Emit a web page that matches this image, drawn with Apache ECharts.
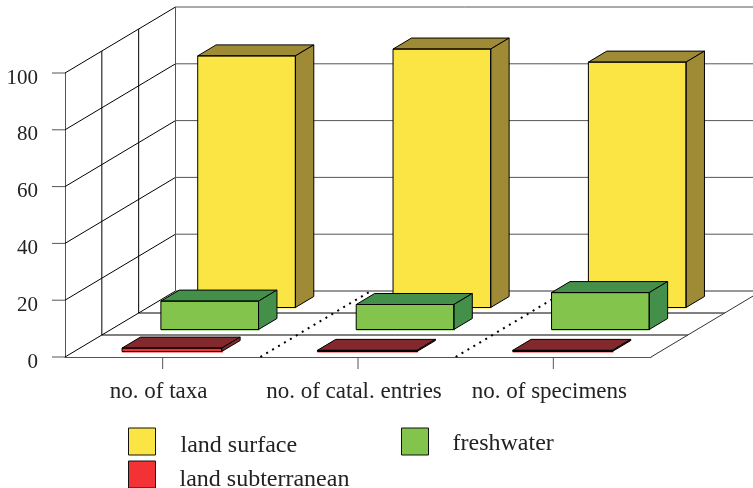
<!DOCTYPE html>
<html>
<head>
<meta charset="utf-8">
<style>html,body{margin:0;padding:0;background:#fff}#c{width:753px;height:488px}</style>
<script src="https://cdn.jsdelivr.net/npm/echarts@6/dist/echarts.min.js"></script>
</head>
<body>
<div id="c"></div>
<script>
const categories = ['no. of taxa', 'no. of catal. entries', 'no. of specimens'];
const landSurface = [88.6, 91, 86.4];
const freshwater = [10, 8.8, 13];
const landSubterranean = [1.2, 0.4, 0.4];
const yTicks = [0, 20, 40, 60, 80, 100];
const lanes = [1 / 3, 2 / 3];
const boundaries = [1, 2];

const FONT = '"Liberation Serif", serif';
const DEPTH_X = 110.5, DEPTH_Y = 66;
const GRAY = '#555', INK = '#000';

function shift(p, d) { return [p[0] + d * DEPTH_X, p[1] - d * DEPTH_Y]; }
function seg(a, b, stroke, extra) {
  return { type: 'line', shape: { x1: a[0], y1: a[1], x2: b[0], y2: b[1] },
    style: Object.assign({ stroke: stroke, lineWidth: 1, fill: null }, extra || {}) };
}
function poly(points, fill, stroke) {
  return { type: 'polygon', shape: { points: points },
    style: { fill: fill || 'none', stroke: stroke || 'none', lineWidth: 1, lineJoin: 'miter' } };
}
function edges(api) {
  const band = api.size([1, 0])[0];
  const o = api.coord([0, 0]);
  return { band: band, left: o[0] - band / 2, right: o[0] - band / 2 + band * categories.length, base: o[1] };
}

function renderWall(params, api) {
  const e = edges(api);
  const y = api.coord([0, api.value(1)])[1];
  const a = [e.left, y], b = [e.right, y];
  return { type: 'group', children: [
    seg([e.left - 13, y], a, GRAY),
    seg(a, shift(a, 1), INK),
    seg(shift(a, 1), shift(b, 1), api.value(1) === 0 ? '#333' : GRAY)
  ] };
}

function renderFrame(params, api) {
  const e = edges(api);
  const top = api.coord([0, 100])[1];
  const children = [];
  lanes.forEach(d => {
    children.push(seg(shift([e.left, top], d), shift([e.left, e.base], d), INK));
    children.push(seg(shift([e.left, e.base], d), shift([e.right, e.base], d), INK));
  });
  children.push(seg(shift([e.left, top], 1), shift([e.left, e.base], 1), GRAY));
  children.push(seg([e.right, e.base], shift([e.right, e.base], 1), '#333'));
  boundaries.forEach(i => {
    const p = [e.left + e.band * i, e.base];
    children.push(seg(p, shift(p, 1), INK, { lineWidth: 2, lineDash: [2, 4.9] }));
  });
  categories.forEach((c, i) => {
    const x = api.coord([i, 0])[0];
    children.push(seg([x, e.base], [x, e.base + 12], GRAY));
  });
  return { type: 'group', children: children };
}

function barRenderer(lane, face, shade, nudge, grow) {
  return function (params, api) {
    const e = edges(api);
    const halfW = e.band * 0.25 + grow;
    const v = api.coord([api.value(0), api.value(1)]);
    const cx = v[0] + nudge;
    const d0 = (lane + 0.25) / 3, d1 = (lane + 0.75) / 3;
    const fl = shift([cx - halfW, e.base], d0);
    const fr = shift([cx + halfW, e.base], d0);
    const tl = shift([cx - halfW, v[1]], d0);
    const tr = shift([cx + halfW, v[1]], d0);
    const btl = shift([cx - halfW, v[1]], d1);
    const btr = shift([cx + halfW, v[1]], d1);
    const bbr = shift([cx + halfW, e.base], d1);
    return { type: 'group', children: [
      poly([[tl[0], tl[1]], [tr[0] + 1, tr[1]], [fr[0] + 1, fr[1] + 1], [fl[0], fl[1] + 1]], face),
      poly([tl, tr, btr, btl], shade, INK),
      poly([tr, btr, bbr, fr], shade, INK),
      poly([tl, tr, fr, fl], null, INK)
    ] };
  };
}

function pairs(values) { return values.map((v, i) => [i, v]); }
function legendAt(name, left, top, padLeft, drop) {
  return { show: true, data: [{ name: name, icon: 'rect' }], left: left, top: top, orient: 'horizontal', padding: 0,
    itemWidth: 27, itemHeight: 27, selectedMode: false,
    itemStyle: { borderColor: '#111', borderWidth: 1 },
    formatter: '{s| }\n{a|{name}}',
    textStyle: { padding: [0, 0, 0, padLeft],
      rich: {
        s: { fontSize: 1, lineHeight: drop * 2 },
        a: { fontFamily: FONT, fontSize: 24, color: '#222', lineHeight: 28 }
      } } };
}

const chart = echarts.init(document.getElementById('c'), null, { renderer: 'canvas' });
chart.setOption({
  animation: false,
  backgroundColor: '#fff',
  tooltip: { show: false },
  grid: { left: 65, right: 102, top: 73, bottom: 131, containLabel: false },
  legend: [
    legendAt('land surface', 128, 427, 20, 4),
    legendAt('freshwater', 401, 427, 19, 2),
    legendAt('land subterranean', 128, 460, 19, 5)
  ],
  xAxis: {
    type: 'category', data: categories,
    axisLine: { show: true, lineStyle: { color: GRAY, width: 1 } },
    axisTick: { show: false },
    axisLabel: { interval: 0, margin: 23, fontFamily: FONT, fontSize: 23, color: '#222', padding: [0, 8, 0, 0] },
    splitLine: { show: false }
  },
  yAxis: {
    type: 'value', min: 0, max: 100, interval: 20,
    axisLine: { show: true, lineStyle: { color: GRAY, width: 1 } },
    axisTick: { show: false },
    axisLabel: { margin: 27, fontFamily: FONT, fontSize: 21, color: '#222', verticalAlign: 'top', lineHeight: 10 },
    splitLine: { show: false }
  },
  series: [
    { type: 'custom', silent: true, renderItem: renderWall, data: yTicks.map(v => [0, v]), encode: { x: 0, y: 1 }, z: 1 },
    { type: 'custom', silent: true, renderItem: renderFrame, data: [[0, 0]], encode: { x: 0, y: 1 }, z: 1 },
    { type: 'custom', name: 'land surface', silent: true, renderItem: barRenderer(2, '#FBE544', '#9F8A35', 1, 0),
      itemStyle: { color: '#FBE544' }, data: pairs(landSurface), encode: { x: 0, y: 1 }, z: 2 },
    { type: 'custom', name: 'freshwater', silent: true, renderItem: barRenderer(1, '#82C44C', '#44904A', 1, 0),
      itemStyle: { color: '#82C44C' }, data: pairs(freshwater), encode: { x: 0, y: 1 }, z: 3 },
    { type: 'custom', name: 'land subterranean', silent: true, renderItem: barRenderer(0, '#F33236', '#82292D', 0, 1),
      itemStyle: { color: '#F33236' }, data: pairs(landSubterranean), encode: { x: 0, y: 1 }, z: 4 }
  ]
});
</script>
</body>
</html>
